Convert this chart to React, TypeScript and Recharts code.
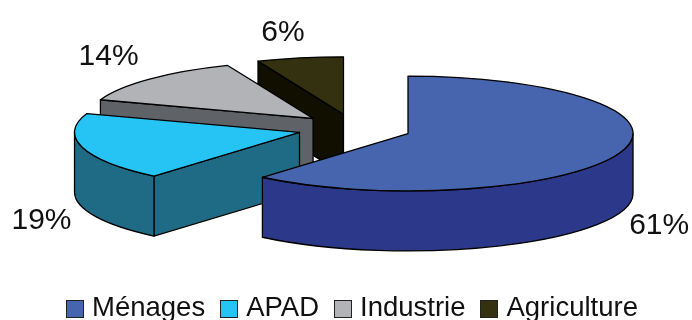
import { PieChart, Pie, Legend } from "recharts";

// listed back to front, the pie runs counter-clockwise from 12 o'clock so Ménages paints last
const categories = ["Agriculture", "Industrie", "APAD", "Ménages"];
// the labels show them rounded
const shares = [6.2, 13.5, 19.1, 61.2];
const topColors = ["#33310f", "#b1b3b6", "#26c4f4", "#4665ae"];
const sideColors = ["#100f00", "#5f6368", "#1f6b85", "#2c398a"];
// label shift from the middle of each slice's rim
const labelShifts = [
  [-17, -27],
  [-41, -25],
  [-41, 71],
  [40, 70]
];

const FLATTEN = 0.255;
const EXPLODE = 57;
const DEPTH = 60;
const FONT = "'Liberation Sans', Arial, sans-serif";

const data = categories.map((name, i) => ({
  name,
  value: shares[i],
  fill: topColors[i],
  side: sideColors[i]
}));

const rad = (deg: number) => (deg * Math.PI) / 180;

function sliceCenter(cx: number, cy: number, midAngle: number) {
  return {
    x: cx + EXPLODE * Math.cos(rad(midAngle)),
    y: cy - EXPLODE * FLATTEN * Math.sin(rad(midAngle))
  };
}

function Wedge(props: any) {
  const { cx, cy, outerRadius: r, startAngle, endAngle, fill, payload } = props;
  const ry = r * FLATTEN;
  const c = sliceCenter(cx, cy, (startAngle + endAngle) / 2);
  const rim = (a: number, drop = 0) =>
    `${c.x + r * Math.cos(rad(a))} ${c.y - ry * Math.sin(rad(a)) + drop}`;

  const side = payload.side;
  const line = { stroke: "#000", strokeWidth: 1.3, strokeLinejoin: "round" as const };

  const face = (a: number) => (
    <path
      d={`M${c.x} ${c.y}L${rim(a)}L${rim(a, DEPTH)}L${c.x} ${c.y + DEPTH}Z`}
      fill={side}
      {...line}
    />
  );

  // only the front half of the rim can be seen
  const from = Math.max(startAngle, 180);
  const to = Math.min(endAngle, 360);
  const large = endAngle - startAngle > 180 ? 1 : 0;

  return (
    <g>
      {Math.cos(rad(startAngle)) > 0.001 && face(startAngle)}
      {Math.cos(rad(endAngle)) < -0.001 && face(endAngle)}
      {to > from && (
        <path
          d={`M${rim(from)}A${r} ${ry} 0 0 0 ${rim(to)}L${rim(to, DEPTH)}A${r} ${ry} 0 0 1 ${rim(from, DEPTH)}Z`}
          fill={side}
          {...line}
        />
      )}
      <path
        d={`M${c.x} ${c.y}L${rim(startAngle)}A${r} ${ry} 0 ${large} 0 ${rim(endAngle)}Z`}
        fill={fill}
        {...line}
      />
    </g>
  );
}

function renderLabel(props: any) {
  const { cx, cy, midAngle, outerRadius: r, index, value } = props;
  const c = sliceCenter(cx, cy, midAngle);
  const [dx, dy] = labelShifts[index];
  return (
    <text
      x={c.x + r * Math.cos(rad(midAngle)) + dx}
      y={c.y - r * FLATTEN * Math.sin(rad(midAngle)) + dy}
      textAnchor="middle"
      dominantBaseline="central"
      fontFamily={FONT}
      fontSize={30}
      fill="#111"
    >
      {Math.round(value)}%
    </text>
  );
}

function renderLegend(props: any) {
  // front slice first, whatever order the legend hands us
  const items = [...props.payload].sort(
    (a: any, b: any) => categories.indexOf(b.value) - categories.indexOf(a.value)
  );
  return (
    <div
      style={{
        display: "flex",
        gap: 15,
        paddingLeft: 66,
        fontFamily: FONT,
        fontSize: 27.5,
        lineHeight: "26px",
        color: "#111"
      }}
    >
      {items.map((item: any) => (
        <div key={item.value} style={{ display: "flex", alignItems: "center", gap: 8 }}>
          <span
            style={{
              width: 18,
              height: 18,
              boxSizing: "border-box",
              marginTop: 4,
              background: item.color,
              border: "1.5px solid #222",
              display: "inline-block"
            }}
          />
          <span>{item.value}</span>
        </div>
      ))}
    </div>
  );
}

export default function App() {
  return (
    <div
      style={{
        position: "absolute",
        left: 0,
        top: 0,
        width: 692,
        height: 320,
        background: "#fff",
        overflow: "hidden",
        filter: "blur(0.4px)"
      }}
    >
      <PieChart width={692} height={320} margin={{ top: 0, right: 0, bottom: 0, left: 0 }}>
        <Pie
          data={data}
          dataKey="value"
          nameKey="name"
          cx={354.5}
          cy={128.5}
          outerRadius={225}
          startAngle={90}
          endAngle={450}
          shape={Wedge}
          label={renderLabel}
          labelLine={false}
          isAnimationActive={false}
        />
        <Legend
          content={renderLegend}
          wrapperStyle={{ left: 0, top: 294, width: 692, bottom: "auto" }}
        />
      </PieChart>
    </div>
  );
}
